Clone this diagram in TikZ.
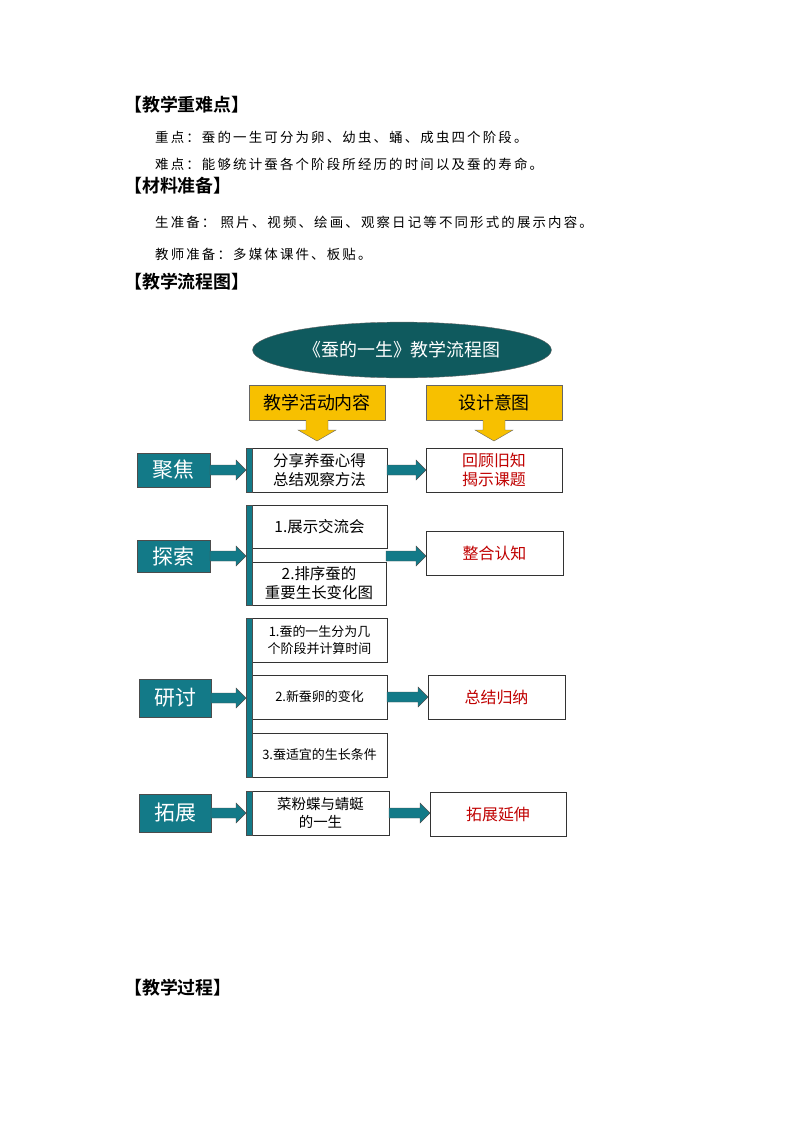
\documentclass[tikz,border=0pt]{standalone}
\usepackage{fontspec}
\newfontfamily\cjk{Noto Sans CJK SC}
\newfontfamily\cjkb{Noto Sans CJK SC Bold}
\newfontfamily\cjks[LetterSpace=16]{Noto Sans CJK SC}
\usetikzlibrary{shapes.geometric}
\definecolor{teal1}{HTML}{137A88}
\definecolor{dteal}{HTML}{0F5A5E}
\definecolor{gold}{HTML}{F7C000}
\definecolor{rtxt}{HTML}{C00000}
\begin{document}
\begin{tikzpicture}[x=1bp,y=-1bp,
 head/.style={anchor=west,inner sep=0,font=\cjkb\fontsize{18}{18}\selectfont},
 body/.style={anchor=west,inner sep=0,font=\cjks\fontsize{13.5}{14}\selectfont},
 lbox/.style={draw=black!70,fill=teal1,text=white,font=\cjk\fontsize{21}{21}\selectfont,inner sep=0},
 cbox/.style={draw=black!80,fill=white,align=center,font=\cjk\fontsize{15.5}{19}\selectfont,inner sep=0},
 rbox/.style={draw=black!80,fill=white,text=rtxt,align=center,font=\cjk\fontsize{16}{19}\selectfont,inner sep=0},
 ybox/.style={draw=black!60,fill=gold,font=\cjk\fontsize{18}{18}\selectfont,inner sep=0},
 fat/.style={draw=black!70,fill=teal1}]
\useasboundingbox (0,0) rectangle (794,1123);
\node[head] (h1) at (124,105) {【教学重难点】};
\node[body] (t1) at (155,137) {重点：蚕的一生可分为卵、幼虫、蛹、成虫四个阶段。};
\node[body] (t2) at (155,164) {难点：能够统计蚕各个阶段所经历的时间以及蚕的寿命。};
\node[head] (h2) at (124,186) {【材料准备】};
\node[body] (t3) at (155,222) {生准备：\ 照片、视频、绘画、观察日记等不同形式的展示内容。};
\node[body] (t4) at (155,254) {教师准备：多媒体课件、板贴。};
\node[head] (h3) at (124,282) {【教学流程图】};
\node[head] (h4) at (124,988) {【教学过程】};
% ellipse
\node[ellipse,draw=black!60,fill=dteal,text=white,minimum width=300,minimum height=56,inner sep=0,font=\cjk\fontsize{18}{18}\selectfont] (el) at (402,350) {《蚕的一生》教学流程图};
\node[ybox,minimum width=136,minimum height=35] (ya) at (317,402.5) {教学活动内容};
\node[ybox,minimum width=136,minimum height=35] (yb) at (494,402.5) {设计意图};
\foreach \c/\n in {317/ya,494/yb}{
 \draw[draw=black!60,fill=gold] (\c-11,420)--(\c-11,430)--(\c-19,430)--(\c,441)--(\c+19,430)--(\c+11,430)--(\c+11,420);
}
% row 1
\node[lbox,minimum width=73,minimum height=34] (l1) at (173.5,470) {聚焦};
\node[cbox,minimum width=135,minimum height=44] (c1) at (319.5,470) {分享养蚕心得\\总结观察方法};
\node[rbox,minimum width=136,minimum height=44] (r1) at (494,470) {回顾旧知\\揭示课题};
\fill[teal1,draw=black!70] (246,448) rectangle (252,492);
% row 2
\node[lbox,minimum width=73,minimum height=32] (l2) at (173.5,556) {探索};
\node[cbox,minimum width=135,minimum height=43] (c2a) at (319.5,526.5) {1.展示交流会};
\node[cbox,minimum width=134,minimum height=43] (c2b) at (319,583.5) {2.排序蚕的\\重要生长变化图};
\node[rbox,minimum width=137,minimum height=44] (r2) at (494.5,553) {整合认知};
\fill[teal1,draw=black!70] (246,505) rectangle (252,605);
% row 3
\node[lbox,minimum width=72,minimum height=38] (l3) at (175,698) {研讨};
\node[cbox,minimum width=135,minimum height=44,font=\cjk\fontsize{13}{17}\selectfont] (c3a) at (319.5,640) {1.蚕的一生分为几\\个阶段并计算时间};
\node[cbox,minimum width=135,minimum height=44,font=\cjk\fontsize{13}{17}\selectfont] (c3b) at (319.5,697) {2.新蚕卵的变化};
\node[cbox,minimum width=135,minimum height=44,font=\cjk\fontsize{13}{17}\selectfont] (c3c) at (319.5,755) {3.蚕适宜的生长条件};
\node[rbox,minimum width=137,minimum height=44] (r3) at (496.5,697) {总结归纳};
\fill[teal1,draw=black!70] (246,618) rectangle (252,777);
% row 4
\node[lbox,minimum width=72,minimum height=38] (l4) at (175,813) {拓展};
\node[cbox,minimum width=137,minimum height=44,font=\cjk\fontsize{14.5}{18}\selectfont] (c4) at (320.5,813) {菜粉蝶与蜻蜓\\的一生};
\node[rbox,minimum width=136,minimum height=44] (r4) at (498,814) {拓展延伸};
\fill[teal1,draw=black!70] (246,791) rectangle (252,835);
% fat arrows
\foreach \a/\ya/\xe in {210/470/246, 210/556/246, 211/698/246, 211/813/246, 387/470/426, 386/556/426, 387/697/428, 389/813/430}{
 \draw[fat] (\a,\ya-5)--(\xe-10,\ya-5)--(\xe-10,\ya-10)--(\xe,\ya)--(\xe-10,\ya+10)--(\xe-10,\ya+5)--(\a,\ya+5)--cycle;
}
\end{tikzpicture}
\end{document}
